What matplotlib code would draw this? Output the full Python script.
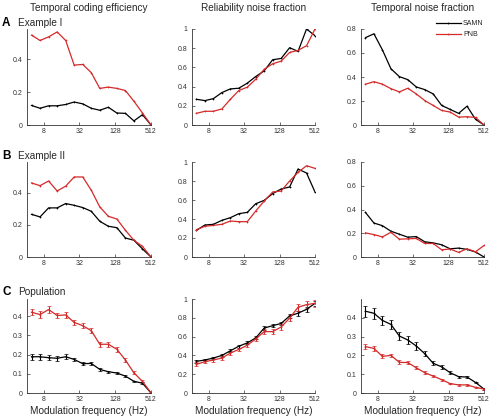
import matplotlib
matplotlib.use("Agg")
import matplotlib.pyplot as plt
import numpy as np

plt.rcParams['font.family'] = ['Liberation Sans', 'DejaVu Sans']

freq = [5, 6.96, 9.69, 13.5, 18.8, 26.1, 36.4, 50.6, 70.4, 98, 136.5, 190, 264, 368, 512]

# Row A: Example I
a_eff_samn = [0.119, 0.102, 0.117, 0.117, 0.125, 0.14, 0.129, 0.102, 0.09, 0.108, 0.073, 0.071, 0.025, 0.063, 0.0]
a_eff_pnb = [0.548, 0.515, 0.537, 0.567, 0.515, 0.365, 0.369, 0.319, 0.223, 0.231, 0.223, 0.21, 0.145, 0.073, 0.0]
a_rel_samn = [0.268, 0.254, 0.275, 0.338, 0.376, 0.383, 0.436, 0.505, 0.564, 0.68, 0.693, 0.805, 0.767, 1.0, 0.93]
a_rel_pnb = [0.122, 0.143, 0.143, 0.167, 0.268, 0.359, 0.394, 0.477, 0.58, 0.638, 0.665, 0.756, 0.777, 0.826, 1.0]
a_tmp_samn = [0.728, 0.76, 0.626, 0.469, 0.403, 0.378, 0.317, 0.295, 0.259, 0.163, 0.13, 0.097, 0.157, 0.047, 0.0]
a_tmp_pnb = [0.34, 0.361, 0.34, 0.303, 0.276, 0.306, 0.259, 0.204, 0.163, 0.121, 0.108, 0.066, 0.069, 0.063, 0.0]

# Row B: Example II
b_eff_samn = [0.265, 0.249, 0.305, 0.305, 0.332, 0.321, 0.307, 0.284, 0.222, 0.191, 0.182, 0.118, 0.104, 0.05, 0.0]
b_eff_pnb = [0.46, 0.443, 0.472, 0.41, 0.44, 0.497, 0.497, 0.415, 0.311, 0.253, 0.236, 0.166, 0.104, 0.066, 0.0]
b_rel_samn = [0.281, 0.337, 0.344, 0.386, 0.414, 0.456, 0.47, 0.561, 0.596, 0.667, 0.716, 0.737, 0.926, 0.884, 0.684]
b_rel_pnb = [0.288, 0.323, 0.333, 0.344, 0.379, 0.372, 0.372, 0.484, 0.589, 0.684, 0.695, 0.8, 0.891, 0.961, 0.933]
b_tmp_samn = [0.375, 0.286, 0.264, 0.217, 0.192, 0.167, 0.172, 0.128, 0.119, 0.103, 0.069, 0.075, 0.064, 0.042, 0.0]
b_tmp_pnb = [0.203, 0.189, 0.169, 0.208, 0.15, 0.153, 0.156, 0.114, 0.114, 0.061, 0.067, 0.039, 0.069, 0.044, 0.097]

# Row C: Population (mean and error)
c_eff_samn = [0.189, 0.189, 0.184, 0.181, 0.189, 0.175, 0.153, 0.154, 0.123, 0.111, 0.104, 0.088, 0.061, 0.051, 0.0]
c_eff_samn_err = [0.016, 0.015, 0.014, 0.013, 0.012, 0.01, 0.009, 0.009, 0.007, 0.006, 0.006, 0.005, 0.004, 0.004, 0.002]
c_eff_pnb = [0.421, 0.409, 0.435, 0.404, 0.407, 0.368, 0.351, 0.325, 0.254, 0.254, 0.228, 0.172, 0.105, 0.061, 0.0]
c_eff_pnb_err = [0.016, 0.016, 0.016, 0.015, 0.015, 0.014, 0.014, 0.014, 0.013, 0.013, 0.013, 0.011, 0.008, 0.006, 0.002]
c_rel_samn = [0.337, 0.351, 0.372, 0.4, 0.449, 0.498, 0.533, 0.586, 0.691, 0.716, 0.74, 0.82, 0.849, 0.89, 0.954]
c_rel_samn_err = [0.015, 0.014, 0.014, 0.014, 0.014, 0.015, 0.015, 0.016, 0.018, 0.018, 0.018, 0.022, 0.025, 0.028, 0.03]
c_rel_pnb = [0.305, 0.333, 0.351, 0.372, 0.425, 0.463, 0.509, 0.575, 0.653, 0.653, 0.702, 0.796, 0.912, 0.94, 0.954]
c_rel_pnb_err = [0.02, 0.018, 0.018, 0.018, 0.018, 0.018, 0.018, 0.02, 0.025, 0.03, 0.03, 0.03, 0.035, 0.035, 0.04]
c_tmp_samn = [0.435, 0.424, 0.386, 0.365, 0.303, 0.282, 0.25, 0.209, 0.158, 0.139, 0.108, 0.087, 0.085, 0.056, 0.021]
c_tmp_samn_err = [0.03, 0.03, 0.026, 0.025, 0.022, 0.02, 0.02, 0.012, 0.01, 0.009, 0.007, 0.006, 0.006, 0.004, 0.003]
c_tmp_pnb = [0.247, 0.237, 0.195, 0.2, 0.163, 0.162, 0.134, 0.108, 0.09, 0.071, 0.05, 0.043, 0.043, 0.03, 0.021]
c_tmp_pnb_err = [0.013, 0.011, 0.011, 0.01, 0.01, 0.009, 0.008, 0.007, 0.006, 0.005, 0.004, 0.004, 0.004, 0.003, 0.003]

col_titles = ["Temporal coding efficiency", "Reliability noise fraction", "Temporal noise fraction"]
row_letters = ["A", "B", "C"]
row_names = ["Example I", "Example II", "Population"]
xticks = [8, 32, 128, 512]
series_names = ["SAMN", "PNB"]

RED = '#d42a2a'
BLACK = '#000000'
TXT = '#262626'

W, H = 490, 416
fig = plt.figure(figsize=(W / 100, H / 100), dpi=100)

col_lr = [(27, 151), (192, 315), (361, 484)]
row_tb = [(29, 125), (162, 257), (299, 393)]

ylims = [[0.585, 1.0, 0.8], [0.59, 1.0, 0.8], [0.49, 1.0, 0.5]]
yticks = [
    [[0, 0.2, 0.4], [0, 0.2, 0.4, 0.6, 0.8, 1], [0, 0.2, 0.4, 0.6, 0.8]],
    [[0, 0.2, 0.4], [0, 0.2, 0.4, 0.6, 0.8, 1], [0, 0.2, 0.4, 0.6, 0.8]],
    [[0, 0.1, 0.2, 0.3, 0.4], [0, 0.2, 0.4, 0.6, 0.8, 1], [0, 0.1, 0.2, 0.3, 0.4]],
]

data = [
    [(a_eff_samn, a_eff_pnb), (a_rel_samn, a_rel_pnb), (a_tmp_samn, a_tmp_pnb)],
    [(b_eff_samn, b_eff_pnb), (b_rel_samn, b_rel_pnb), (b_tmp_samn, b_tmp_pnb)],
]
errdata = [
    (c_eff_samn, c_eff_samn_err, c_eff_pnb, c_eff_pnb_err),
    (c_rel_samn, c_rel_samn_err, c_rel_pnb, c_rel_pnb_err),
    (c_tmp_samn, c_tmp_samn_err, c_tmp_pnb, c_tmp_pnb_err),
]

for r in range(3):
    for c in range(3):
        l, rr = col_lr[c]
        t, b = row_tb[r]
        ax = fig.add_axes([l / W, 1 - b / H, (rr - l) / W, (b - t) / H])
        if r < 2:
            s, p = data[r][c]
            ax.plot(freq, s, color=BLACK, lw=0.9, marker='+', ms=2, mew=0.5, label=series_names[0])
            ax.plot(freq, p, color=RED, lw=0.9, marker='+', ms=2, mew=0.5, label=series_names[1])
        else:
            s, se, p, pe = errdata[c]
            ax.errorbar(freq, s, yerr=se, color=BLACK, lw=0.9, elinewidth=0.8, capsize=1.5, capthick=0.6,
                        marker='+', ms=2, mew=0.5)
            ax.errorbar(freq, p, yerr=pe, color=RED, lw=0.9, elinewidth=0.8, capsize=1.5, capthick=0.6,
                        marker='+', ms=2, mew=0.5)
        ax.set_xscale('log', base=2)
        ax.set_xlim(4.2, 512)
        ax.set_ylim(0, ylims[r][c])
        ax.set_xticks(xticks)
        ax.set_xticklabels([str(x) for x in xticks])
        ax.minorticks_off()
        ax.set_yticks(yticks[r][c])
        ax.set_yticklabels(['%g' % v for v in yticks[r][c]])
        for sp in ['top', 'right']:
            ax.spines[sp].set_visible(False)
        for sp in ['left', 'bottom']:
            ax.spines[sp].set_linewidth(0.6)
            ax.spines[sp].set_color('#333333')
        ax.tick_params(direction='in', length=2, width=0.5, labelsize=5, pad=2, colors='#333333')
        ax.tick_params(axis='y', pad=3)
        if r == 2:
            ax.set_xlabel("Modulation frequency (Hz)", fontsize=7.2, labelpad=2, color=TXT)
        if r == 0 and c == 2:
            ax.legend(loc='upper right', bbox_to_anchor=(1.02, 1.12), frameon=False, fontsize=5,
                      handlelength=3.6, handletextpad=0.3, labelspacing=0.6, borderaxespad=0,
                      labelcolor=TXT)

for c in range(3):
    l, rr = col_lr[c]
    fig.text((l + rr) / 2 / W, 1 - 8 / H, col_titles[c], ha='center', va='center', fontsize=7.2, color=TXT)

label_y = [23, 156, 292]
for r in range(3):
    fig.text(2 / W, 1 - label_y[r] / H, row_letters[r], ha='left', va='center', fontsize=8.5, fontweight='bold')
    fig.text(18 / W, 1 - label_y[r] / H, row_names[r], ha='left', va='center', fontsize=7.2, color=TXT)

fig.savefig("out.png", dpi=100)
